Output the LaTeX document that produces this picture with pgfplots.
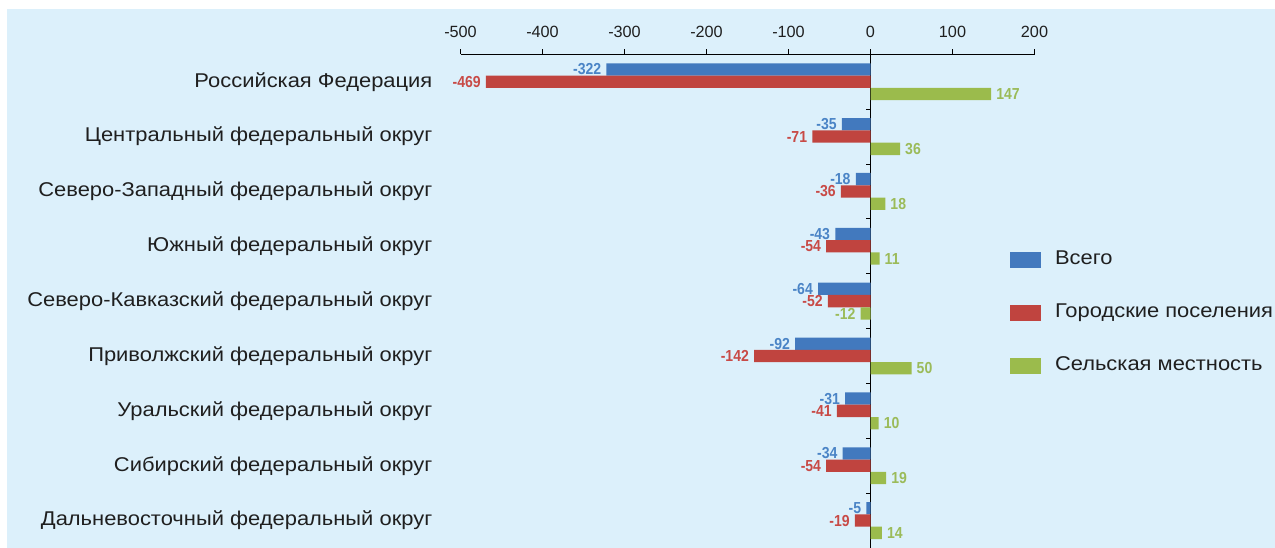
\documentclass[border=0pt]{standalone}
\usepackage{fontspec}
\usepackage{pgfplots}
\pgfplotsset{compat=1.18}
\setmainfont{Liberation Sans}
\newfontfamily\condb[FakeStretch=0.88]{Liberation Sans}
\newfontfamily\wide[FakeStretch=1.1]{Liberation Sans}

\definecolor{bgblue}{HTML}{DCF0FB}
\definecolor{barblue}{HTML}{4279BE}
\definecolor{barred}{HTML}{C0443F}
\definecolor{bargreen}{HTML}{9BBB4C}
\definecolor{lblblue}{HTML}{4A84C6}
\definecolor{lblred}{HTML}{C84A46}
\definecolor{lblgreen}{HTML}{9BBB59}

\pgfplotsset{
    swatch/.style={legend image code/.code={\fill[##1] (0bp,-8bp) rectangle (31bp,8bp);}},
    vals/.style={nodes near coords,
        every node near coord/.append style={font=\condb\bfseries\fontsize{16}{18}\selectfont,
        text=#1, inner xsep=5bp, inner ysep=0pt}},
}

\begin{document}
\begin{tikzpicture}[x=1bp,y=1bp]
\fill[white] (0,0) rectangle (1275,548);
\fill[bgblue] (7,0) rectangle (1275,539);
\begin{axis}[
    at={(460.5bp,0bp)}, anchor=south west,
    scale only axis, width=574bp, height=493.7bp,
    xmin=-500, xmax=200, ymin=-0.5, ymax=8.5,
    axis x line*=top, axis y line*=left,
    y axis line style={draw=none},
    x axis line style={line width=0.9bp, black},
    xtick={-500,-400,...,200},
    tick align=outside, major tick length=5bp,
    xtick style={line width=0.9bp, black},
    ytick={0,...,8}, ytick style={draw=none},
    yticklabels={Дальневосточный федеральный округ, Сибирский федеральный округ,
        Уральский федеральный округ, Приволжский федеральный округ,
        Северо-Кавказский федеральный округ, Южный федеральный округ,
        Северо-Западный федеральный округ, Центральный федеральный округ,
        Российская Федерация},
    yticklabel style={font=\wide\fontsize{20}{23}\selectfont, text=black!88,
        anchor=east, inner sep=0pt, xshift=-23bp},
    xticklabel style={font=\fontsize{16.3}{19}\selectfont, text=black!88, yshift=8bp},
    /pgf/number format/assume math mode=true,
    extra x ticks={0}, extra x tick labels={},
    extra x tick style={grid=major, major grid style={black, line width=0.9bp}},
    xbar, bar width=12.3bp,
    legend style={draw=none, fill=none, inner sep=0pt, outer sep=0pt,
        at={(rel axis cs:0.9573,0.600)}, anchor=north west,
        column sep=14bp, row sep=36bp,
        font=\wide\fontsize{20}{23}\selectfont, text=black!88,
        nodes={inner sep=0pt, text height=13bp, text depth=4bp}},
    legend cell align=left,
]
\addplot[draw=none, fill=barblue, bar shift=12.3bp, swatch, vals=lblblue]
    coordinates {(-322,8) (-35,7) (-18,6) (-43,5) (-64,4) (-92,3) (-31,2) (-34,1) (-5,0)};
\addlegendentry{Всего}
\addplot[draw=none, fill=barred, bar shift=0bp, swatch, vals=lblred]
    coordinates {(-469,8) (-71,7) (-36,6) (-54,5) (-52,4) (-142,3) (-41,2) (-54,1) (-19,0)};
\addlegendentry{Городские поселения}
\addplot[draw=none, fill=bargreen, bar shift=-12.3bp, swatch, vals=lblgreen]
    coordinates {(147,8) (36,7) (18,6) (11,5) (-12,4) (50,3) (10,2) (19,1) (14,0)};
\addlegendentry{Сельская местность}
\pgfplotsinvokeforeach{0.5,1.5,...,7.5}{
    \draw[black, line width=0.9bp] (axis cs:0,#1) -- ([xshift=-5bp]axis cs:0,#1);
}
\end{axis}
\pgfresetboundingbox
\path (0,0) rectangle (1275,548);
\end{tikzpicture}
\end{document}
